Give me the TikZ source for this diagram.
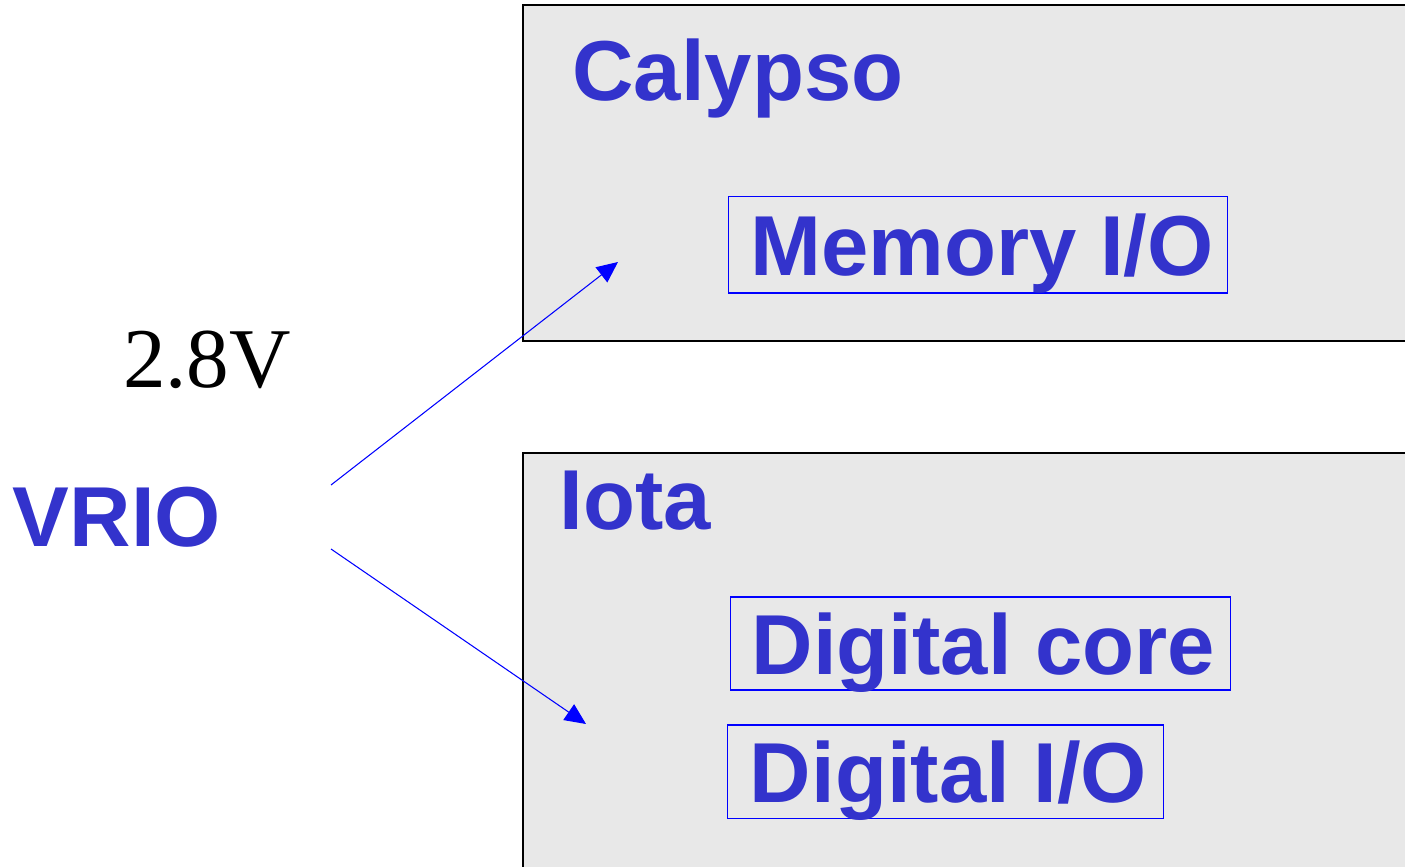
\documentclass[tikz,border=0pt]{standalone}
\usepackage{fontspec}
\setmainfont{Liberation Sans}
\newfontfamily\timesfont{Liberation Serif}
\usetikzlibrary{arrows.meta}
\definecolor{labelblue}{RGB}{51,51,204}
\definecolor{chipgray}{RGB}{232,232,232}
\tikzset{
	chip/.style={draw=black, fill=chipgray, line width=0.6pt},
	title/.style={text=labelblue, font=\fontsize{24.2}{29}\selectfont\bfseries, inner sep=0pt},
	block/.style={title, draw=blue, line width=0.3pt, text height=0.61cm, text depth=0pt},
	feed/.style={draw=blue, line width=0.3pt, -{Triangle[length=0.21cm,width=0.19cm]}}
}
\begin{document}
\begin{tikzpicture}[x=0.01cm, y=-0.01cm]
		\useasboundingbox (0,0) rectangle (1405,867);
		\clip (0,0) rectangle (1405,867);
		% the two chips
		\draw[chip] (523,5) rectangle (1420,341);
		\draw[chip] (523,453) rectangle (1420,880);
		\node[title, anchor=base] (calypso) at (738,101) {Calypso};
		\node[title, anchor=base] (iota) at (635,530) {Iota};
		\node[block, minimum width=4.98cm, minimum height=0.96cm] (mem) at (978,245) {\hspace{0.08cm}Memory I/O};
		\node[block, minimum width=4.99cm, minimum height=0.93cm] (core) at (980.5,643.5) {\hspace{0.06cm}Digital core};
		\node[block, minimum width=4.35cm, minimum height=0.93cm] (dio) at (945.5,771.5) {\hspace{0.06cm}Digital I/O};
		% supply
		\node[title, anchor=base] (vrio) at (117,547) {VRIO};
		\node[font=\timesfont\fontsize{24.2}{29}\selectfont, inner sep=0pt, anchor=base] (volt) at (207,388) {2.8V};
		\coordinate (upstart) at (331,485);
		\coordinate (downstart) at (331,549);
		\coordinate (upend) at (618,262);
		\coordinate (downend) at (586,724);
		\draw[feed] (upstart) -- (upend);
		\draw[feed] (downstart) -- (downend);
	\end{tikzpicture}
\end{document}
